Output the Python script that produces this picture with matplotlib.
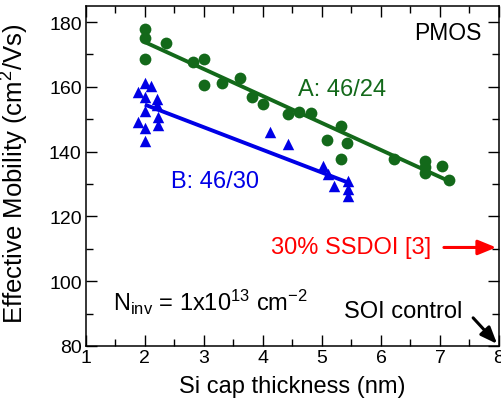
import matplotlib
matplotlib.use("Agg")
import matplotlib.pyplot as plt
from matplotlib.ticker import MultipleLocator

plt.rcParams["font.family"] = ["Liberation Sans", "DejaVu Sans"]
plt.rcParams["mathtext.fontset"] = "custom"
plt.rcParams["mathtext.rm"] = "Liberation Sans"
plt.rcParams["mathtext.it"] = "Liberation Sans"

GREEN = "#13691a"
BLUE = "#0000e6"
RED = "#ff0000"

# ── Data ──────────────────────────────────────────────────────────────────────
a_thk = [2.01, 2.01, 2.01, 2.36, 2.82, 3.01, 3.01, 3.31, 3.62, 3.81, 4.00,
         4.42, 4.62, 4.82, 5.08, 5.33, 5.33, 5.43, 6.22, 6.74, 6.74, 6.74,
         7.04, 7.15]
a_mob = [177.7, 175.0, 168.6, 173.4, 167.8, 168.5, 160.5, 161.3, 162.7,
         157.0, 154.7, 151.5, 152.3, 152.0, 143.5, 147.9, 137.6, 142.7,
         137.6, 137.0, 135.2, 133.3, 135.5, 131.1]

b_thk = [2.00, 2.11, 1.89, 2.01, 2.21, 2.21, 2.00, 2.22, 1.89, 2.22, 2.01,
         2.01, 4.12, 4.42, 5.02, 5.11, 5.21, 5.44, 5.44, 5.44]
b_mob = [161.2, 160.4, 158.3, 156.8, 156.3, 154.5, 152.5, 150.6, 149.0,
         148.3, 147.3, 143.3, 145.9, 142.3, 135.4, 133.0, 129.5, 130.9,
         128.4, 126.2]

fit_a_x = [2.0, 7.14]
fit_a_y = [173.8, 131.0]
fit_b_x = [2.0, 5.42]
fit_b_y = [154.5, 130.6]

ssdoi_y = 110.4

fig = plt.figure(figsize=(5.02, 4.02), dpi=100)
ax = fig.add_axes([0.171, 0.137, 0.823, 0.846])

ax.plot(fit_a_x, fit_a_y, color=GREEN, lw=2.8, solid_capstyle="butt", zorder=2)
ax.plot(fit_b_x, fit_b_y, color=BLUE, lw=2.8, solid_capstyle="butt", zorder=2)
ax.scatter(a_thk, a_mob, s=72, marker="o", color=GREEN, lw=0, zorder=3)
ax.scatter(b_thk, b_mob, s=68, marker="^", color=BLUE, lw=0, zorder=3)

ax.set_xlim(1, 8)
ax.set_ylim(80, 185)
ax.xaxis.set_major_locator(MultipleLocator(1))
ax.xaxis.set_minor_locator(MultipleLocator(0.5))
ax.yaxis.set_major_locator(MultipleLocator(20))
ax.yaxis.set_minor_locator(MultipleLocator(10))
ax.tick_params(which="both", direction="in", top=True, right=True,
               labelsize=14, width=1.0)
ax.tick_params(axis="x", pad=2)
ax.tick_params(axis="y", pad=3)
ax.tick_params(which="major", length=8)
ax.tick_params(which="minor", length=5)
for s in ax.spines.values():
    s.set_linewidth(1.1)

ax.set_xlabel("Si cap thickness (nm)", fontsize=17)
ax.set_ylabel("Effective Mobility (cm$^2$/Vs)", fontsize=18.5)
ax.xaxis.set_label_coords(0.5, -0.085)
ax.yaxis.set_label_coords(-0.133, 0.51)

ax.text(7.70, 176.7, "PMOS", fontsize=16.5, ha="right", va="center")
ax.text(4.60, 159.4, "A: 46/24", fontsize=17, color=GREEN, ha="left", va="center")
ax.text(2.45, 131.0, "B: 46/30", fontsize=17, color=BLUE, ha="left", va="center")
ax.text(1.46, 91.1, r"N$_{\rm inv}$ = 1x10$^{13}$ cm$^{-2}$", fontsize=17,
        ha="left", va="baseline")

ax.annotate("", xy=(8.0, ssdoi_y), xytext=(7.02, ssdoi_y),
            arrowprops=dict(arrowstyle="-|>,head_length=1.1,head_width=0.45",
                            color=RED, lw=2.2), annotation_clip=False)
ax.text(6.85, ssdoi_y, "30% SSDOI [3]", fontsize=17, color=RED,
        ha="right", va="center")

ax.annotate("", xy=(8.0, 80.0), xytext=(7.53, 89.3),
            arrowprops=dict(arrowstyle="-|>,head_length=1.0,head_width=0.4",
                            color="black", lw=2.2), annotation_clip=False)
ax.text(7.38, 90.7, "SOI control", fontsize=17, ha="right", va="center")

fig.savefig("out.png", dpi=100)
